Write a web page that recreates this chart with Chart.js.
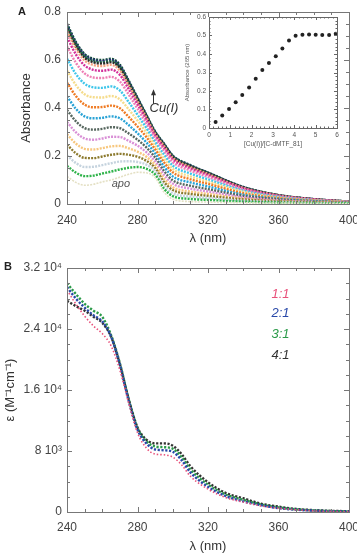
<!DOCTYPE html>
<html>
<head>
<meta charset="utf-8">
<script src="https://cdn.jsdelivr.net/npm/chart.js@4.4.1/dist/chart.umd.min.js"></script>
<style>
body { margin: 0; background: #fff; width: 357px; height: 554px; position: relative; overflow: hidden; font-family: "Liberation Sans", Arial, sans-serif; }
canvas { position: absolute; }
#cA { left: 0; top: 0; }
#cIn { left: 180px; top: 5px; }
#cB { left: 0; top: 254px; }
.lbl { position: absolute; font-weight: bold; font-size: 11px; color: #222; }
</style>
</head>
<body>
<canvas id="cA" width="357" height="254"></canvas>
<canvas id="cIn" width="170" height="150"></canvas>
<canvas id="cB" width="357" height="300"></canvas>
<div class="lbl" style="left:18px;top:5px">A</div>
<div class="lbl" style="left:4px;top:260px">B</div>
<script>
// ---- panel A : titration spectra ----
var wl = [240, 245, 250, 255, 260, 265, 270, 275, 280, 285, 290, 295, 300, 310, 320, 340, 360, 380, 400];

var apo  = [0.115, 0.090, 0.078, 0.082, 0.092, 0.100, 0.112, 0.124, 0.132, 0.130, 0.110, 0.050, 0.020, 0.010, 0.008, 0.005, 0.004, 0.003, 0.002];
var cu1  = [0.159, 0.131, 0.116, 0.118, 0.127, 0.135, 0.144, 0.151, 0.154, 0.147, 0.123, 0.064, 0.033, 0.021, 0.017, 0.010, 0.006, 0.004, 0.003];
var cu2  = [0.203, 0.171, 0.154, 0.155, 0.162, 0.170, 0.177, 0.178, 0.175, 0.164, 0.137, 0.078, 0.045, 0.031, 0.025, 0.014, 0.009, 0.005, 0.003];
var cu3  = [0.247, 0.212, 0.192, 0.191, 0.198, 0.205, 0.209, 0.205, 0.197, 0.180, 0.150, 0.092, 0.058, 0.042, 0.034, 0.019, 0.011, 0.007, 0.004];
var cu4  = [0.291, 0.252, 0.230, 0.227, 0.233, 0.240, 0.242, 0.232, 0.218, 0.197, 0.163, 0.106, 0.070, 0.052, 0.042, 0.023, 0.013, 0.008, 0.004];
var cu5  = [0.342, 0.299, 0.273, 0.268, 0.273, 0.280, 0.279, 0.263, 0.243, 0.216, 0.178, 0.122, 0.085, 0.064, 0.052, 0.028, 0.016, 0.009, 0.005];
var cu6  = [0.392, 0.345, 0.316, 0.310, 0.313, 0.320, 0.316, 0.294, 0.268, 0.236, 0.194, 0.138, 0.099, 0.076, 0.062, 0.034, 0.019, 0.010, 0.006];
var cu7  = [0.449, 0.397, 0.365, 0.357, 0.359, 0.365, 0.357, 0.329, 0.295, 0.257, 0.211, 0.156, 0.115, 0.090, 0.073, 0.039, 0.021, 0.012, 0.006];
var cu8  = [0.506, 0.450, 0.414, 0.403, 0.404, 0.410, 0.399, 0.363, 0.323, 0.279, 0.228, 0.174, 0.132, 0.103, 0.084, 0.045, 0.024, 0.014, 0.007];
var cu9  = [0.556, 0.496, 0.457, 0.445, 0.444, 0.450, 0.436, 0.394, 0.348, 0.298, 0.243, 0.190, 0.146, 0.115, 0.093, 0.051, 0.027, 0.015, 0.008];
var cu10 = [0.606, 0.542, 0.501, 0.486, 0.484, 0.490, 0.473, 0.425, 0.372, 0.317, 0.258, 0.206, 0.160, 0.127, 0.103, 0.056, 0.030, 0.016, 0.008];
var cu11 = [0.657, 0.589, 0.544, 0.527, 0.525, 0.530, 0.510, 0.456, 0.397, 0.336, 0.273, 0.222, 0.175, 0.139, 0.113, 0.061, 0.032, 0.018, 0.009];
var cu12 = [0.695, 0.624, 0.577, 0.559, 0.555, 0.560, 0.538, 0.479, 0.415, 0.351, 0.285, 0.234, 0.186, 0.148, 0.120, 0.065, 0.034, 0.019, 0.009];
var cu13 = [0.720, 0.647, 0.598, 0.579, 0.575, 0.580, 0.556, 0.495, 0.428, 0.360, 0.292, 0.242, 0.193, 0.154, 0.125, 0.067, 0.036, 0.019, 0.010];
var cu14 = [0.732, 0.658, 0.609, 0.590, 0.585, 0.590, 0.566, 0.502, 0.434, 0.365, 0.296, 0.246, 0.196, 0.157, 0.128, 0.069, 0.036, 0.020, 0.010];
var cu15 = [0.738, 0.664, 0.615, 0.595, 0.590, 0.595, 0.570, 0.506, 0.437, 0.368, 0.298, 0.248, 0.198, 0.158, 0.129, 0.069, 0.037, 0.020, 0.010];
var cu16 = [0.745, 0.670, 0.620, 0.600, 0.595, 0.600, 0.575, 0.510, 0.440, 0.370, 0.300, 0.250, 0.200, 0.160, 0.130, 0.070, 0.037, 0.020, 0.010];
var cu17 = [0.751, 0.676, 0.625, 0.605, 0.600, 0.605, 0.580, 0.514, 0.443, 0.372, 0.302, 0.252, 0.202, 0.162, 0.131, 0.071, 0.037, 0.020, 0.010];

var spectraA = [apo, cu1, cu2, cu3, cu4, cu5, cu6, cu7, cu8, cu9, cu10, cu11, cu12, cu13, cu14, cu15, cu16, cu17];
var colorsA = ["#e4e0c4", "#2fb34a", "#c5d3de", "#8c7a2e", "#f7c77e", "#d98fd6", "#56665e", "#2aa3d6", "#ef7a22",
               "#f5dc8c", "#3fc6ea", "#ee7fb5", "#d3309a", "#f4a582", "#2b2b2b", "#1f7a45", "#2a2f7a", "#0f4a3a"];

// ---- inset : absorbance at 265 nm vs ratio ----
var ratio  = [0.31, 0.62, 0.94, 1.25, 1.56, 1.88, 2.19, 2.50, 2.81, 3.13, 3.44, 3.75, 4.06, 4.38, 4.69, 5.00, 5.31, 5.63, 5.94];
var abs265 = [0.033, 0.067, 0.103, 0.139, 0.178, 0.219, 0.266, 0.313, 0.351, 0.388, 0.430, 0.473, 0.498, 0.504, 0.505, 0.504, 0.503, 0.503, 0.510];

// ---- panel B : molar absorptivity ----
var wlB = [240, 245, 250, 255, 260, 265, 270, 275, 280, 285, 290, 295, 300, 305, 310, 320, 330, 340, 350, 360, 370, 380, 390, 400];
var eps11 = [29100, 27300, 25700, 24400, 23400, 21800, 18600, 14300, 10400, 8400, 7600, 7500, 7200, 6200, 4700, 3000, 1900, 1300, 800, 500, 300, 150, 80, 50];
var eps21 = [29500, 28000, 26800, 25800, 25000, 23000, 19300, 14600, 10800, 9000, 8200, 8100, 7900, 6800, 5200, 3300, 2100, 1400, 900, 500, 300, 180, 100, 60];
var eps31 = [30000, 28600, 27300, 26400, 25600, 23200, 19500, 14800, 11000, 9300, 8600, 8500, 8300, 7200, 5600, 3600, 2300, 1600, 1000, 600, 350, 200, 120, 80];
var eps41 = [27700, 27000, 26400, 25600, 24800, 23000, 19400, 14800, 11100, 9500, 9000, 9000, 8700, 7600, 6000, 3900, 2500, 1800, 1100, 700, 400, 250, 150, 100];
var ratioLabels = ["1:1", "2:1", "3:1", "4:1"];
var colorsB = ["#e8507a", "#2848a8", "#2a9a48", "#333333"];

var epsTicks = [0, 8000, 16000, 24000, 32000];
var epsTickLabels = ["0", "8 10\u00b3", "1.6 10\u2074", "2.4 10\u2074", "3.2 10\u2074"];

function pts(xs, ys) {
    return xs.map(function (x, i) { return { x: x, y: ys[i] }; });
}

// box with inner ticks on all four sides
var boxTicks = {
    id: 'boxTicks',
    afterDraw: function (chart, args, o) {
        var ctx = chart.ctx, a = chart.chartArea;
        var xs = chart.scales.x, ys = chart.scales.y;
        ctx.save();
        ctx.strokeStyle = o.color;
        ctx.lineWidth = 1;
        ctx.strokeRect(Math.round(a.left) + 0.5, Math.round(a.top) + 0.5, Math.round(a.right - a.left), Math.round(a.bottom - a.top));
        ctx.beginPath();
        var n = Math.round((xs.max - xs.min) / o.xStep), i, v, p, L;
        for (i = 1; i < n; i++) {
            v = xs.min + i * o.xStep;
            p = Math.round(xs.getPixelForValue(v)) + 0.5;
            L = Math.abs(v / o.xMajor - Math.round(v / o.xMajor)) < 1e-6 ? o.len : o.minorLen;
            ctx.moveTo(p, a.bottom); ctx.lineTo(p, a.bottom - L);
            ctx.moveTo(p, a.top); ctx.lineTo(p, a.top + L);
        }
        n = Math.round((ys.max - ys.min) / o.yStep);
        for (i = 1; i < n; i++) {
            v = ys.min + i * o.yStep;
            p = Math.round(ys.getPixelForValue(v)) + 0.5;
            L = Math.abs(v / o.yMajor - Math.round(v / o.yMajor)) < 1e-6 ? o.len : o.minorLen;
            ctx.moveTo(a.left, p); ctx.lineTo(a.left + L, p);
            ctx.moveTo(a.right, p); ctx.lineTo(a.right - L, p);
        }
        ctx.stroke();
        ctx.restore();
    }
};

// free text / arrow placed in data coordinates
var notes = {
    id: 'notes',
    afterDatasetsDraw: function (chart, args, o) {
        var ctx = chart.ctx, xs = chart.scales.x, ys = chart.scales.y;
        ctx.save();
        (o.texts || []).forEach(function (t) {
            ctx.font = t.font;
            ctx.fillStyle = t.color;
            ctx.textAlign = t.align || 'center';
            ctx.textBaseline = 'middle';
            ctx.fillText(t.text, xs.getPixelForValue(t.x), ys.getPixelForValue(t.y));
        });
        (o.arrows || []).forEach(function (r) {
            var px = Math.round(xs.getPixelForValue(r.x)) + 0.5;
            var y0 = ys.getPixelForValue(r.y0), y1 = ys.getPixelForValue(r.y1);
            ctx.strokeStyle = r.color; ctx.fillStyle = r.color; ctx.lineWidth = 1;
            ctx.beginPath(); ctx.moveTo(px, y0); ctx.lineTo(px, y1 + 3); ctx.stroke();
            ctx.beginPath(); ctx.moveTo(px, y1); ctx.lineTo(px - 2.5, y1 + 6); ctx.lineTo(px + 2.5, y1 + 6); ctx.closePath(); ctx.fill();
        });
        ctx.restore();
    }
};

var tickFont = { family: "'Liberation Sans', Arial, sans-serif", size: 12 };
var titleFont = { family: "'Liberation Sans', Arial, sans-serif", size: 13 };

// ---------------- chart A ----------------
var dsA = spectraA.map(function (s, i) {
    return {
        data: pts(wl, s),
        borderColor: colorsA[i],
        borderWidth: i === 0 ? 1.6 : 2.4,
        borderDash: [2, 1.2],
        pointRadius: 0,
        fill: false,
        cubicInterpolationMode: 'monotone'
    };
});

new Chart(document.getElementById("cA"), {
    type: "line",
    data: { datasets: dsA },
    options: {
        responsive: false, animation: false, devicePixelRatio: 1,
        layout: { padding: { left: 19, top: 12, right: 8, bottom: 8 } },
        plugins: {
            legend: { display: false }, tooltip: { enabled: false },
            boxTicks: { color: "#777", xStep: 10, xMajor: 40, yStep: 0.05, yMajor: 0.2, len: 5, minorLen: 3 },
            notes: {
                texts: [
                    { text: "Cu(I)", x: 295, y: 0.40, font: "italic 13px 'Liberation Sans', Arial", color: "#333" },
                    { text: "apo", x: 270.6, y: 0.083, font: "italic 11px 'Liberation Sans', Arial", color: "#555" }
                ],
                arrows: [{ x: 288.8, y0: 0.417, y1: 0.478, color: "#333" }]
            }
        },
        scales: {
            x: {
                type: "linear", min: 240, max: 400,
                ticks: { stepSize: 40, padding: 9, color: "#444", font: tickFont, maxRotation: 0 },
                grid: { display: false, drawTicks: false },
                border: { display: false },
                title: { display: true, text: "\u03bb (nm)", color: "#333", font: titleFont, padding: 0 },
                afterFit: function (s) { s.height = 42; s.paddingLeft = 0; s.paddingRight = 0; }
            },
            y: {
                min: 0, max: 0.8,
                ticks: { stepSize: 0.2, padding: 6, color: "#444", font: tickFont,
                    callback: function (v) { return v === 0 ? "0" : v.toFixed(1); } },
                grid: { display: false, drawTicks: false },
                border: { display: false },
                title: { display: true, text: "Absorbance", color: "#333", font: titleFont, padding: 0 },
                afterFit: function (s) { s.width = 48; s.paddingTop = 0; s.paddingBottom = 0; }
            }
        }
    },
    plugins: [boxTicks, notes]
});

// ---------------- inset ----------------
var smallFont = { family: "'Liberation Sans', Arial, sans-serif", size: 6.5 };
new Chart(document.getElementById("cIn"), {
    type: "scatter",
    data: { datasets: [{ data: pts(ratio, abs265), backgroundColor: "#222", borderColor: "#222", pointRadius: 2, pointBorderWidth: 0 }] },
    options: {
        responsive: false, animation: false, devicePixelRatio: 1,
        layout: { padding: { left: 4, top: 12, right: 13, bottom: 7 } },
        plugins: {
            legend: { display: false }, tooltip: { enabled: false },
            boxTicks: { color: "#666", xStep: 0.2, xMajor: 1, yStep: 0.02, yMajor: 0.1, len: 3, minorLen: 1.5 }
        },
        scales: {
            x: {
                type: "linear", min: 0, max: 6,
                ticks: { stepSize: 1, padding: 3, color: "#555", font: smallFont, maxRotation: 0 },
                grid: { display: false, drawTicks: false },
                border: { display: false },
                title: { display: true, text: "[Cu(I)]/[C-dMTF_81]", color: "#555", font: smallFont, padding: 0 },
                afterFit: function (s) { s.height = 20; s.paddingLeft = 0; s.paddingRight = 0; }
            },
            y: {
                min: 0, max: 0.6,
                ticks: { stepSize: 0.1, padding: 3, color: "#555", font: smallFont,
                    callback: function (v) { return v === 0 ? "0" : v.toFixed(1); } },
                grid: { display: false, drawTicks: false },
                border: { display: false },
                title: { display: true, text: "Absorbance (265 nm)", color: "#555", font: { family: "'Liberation Sans', Arial, sans-serif", size: 6 }, padding: 0 },
                afterFit: function (s) { s.width = 25; s.paddingTop = 0; s.paddingBottom = 0; }
            }
        }
    },
    plugins: [boxTicks]
});

// ---------------- chart B ----------------
var seriesB = [eps11, eps21, eps31, eps41];
var dsB = seriesB.map(function (s, i) {
    return {
        data: pts(wlB, s),
        borderColor: colorsB[i],
        borderWidth: i === 0 ? 1.6 : 2.4,
        borderDash: i === 0 ? [1.5, 2] : [2.2, 1.6],
        pointRadius: 0,
        fill: false,
        cubicInterpolationMode: 'monotone'
    };
});

new Chart(document.getElementById("cB"), {
    type: "line",
    data: { datasets: dsB },
    options: {
        responsive: false, animation: false, devicePixelRatio: 1,
        layout: { padding: { left: 3, top: 14, right: 8, bottom: 0 } },
        plugins: {
            legend: { display: false }, tooltip: { enabled: false },
            boxTicks: { color: "#777", xStep: 10, xMajor: 40, yStep: 2000, yMajor: 8000, len: 5, minorLen: 3 },
            notes: {
                texts: ratioLabels.map(function (t, i) {
                    return { text: t, x: 356, y: [28600, 26000, 23300, 20600][i], align: "left",
                             font: "italic 13px 'Liberation Sans', Arial", color: colorsB[i] };
                })
            }
        },
        scales: {
            x: {
                type: "linear", min: 240, max: 400,
                ticks: { stepSize: 40, padding: 8, color: "#444", font: tickFont, maxRotation: 0 },
                grid: { display: false, drawTicks: false },
                border: { display: false },
                title: { display: true, text: "\u03bb (nm)", color: "#333", font: titleFont, padding: 0 },
                afterFit: function (s) { s.height = 42; s.paddingLeft = 0; s.paddingRight = 0; }
            },
            y: {
                min: 0, max: 32000,
                afterBuildTicks: function (s) { s.ticks = epsTicks.map(function (v) { return { value: v }; }); },
                ticks: { padding: 5, color: "#444", font: tickFont,
                    callback: function (v) { return epsTickLabels[epsTicks.indexOf(v)]; } },
                grid: { display: false, drawTicks: false },
                border: { display: false },
                title: { display: true, text: "\u03b5 (M\u207b\u00b9cm\u207b\u00b9)", color: "#333", font: titleFont, padding: 0 },
                afterFit: function (s) { s.width = 64; s.paddingTop = 0; s.paddingBottom = 0; }
            }
        }
    },
    plugins: [boxTicks, notes]
});
</script>
</body>
</html>
